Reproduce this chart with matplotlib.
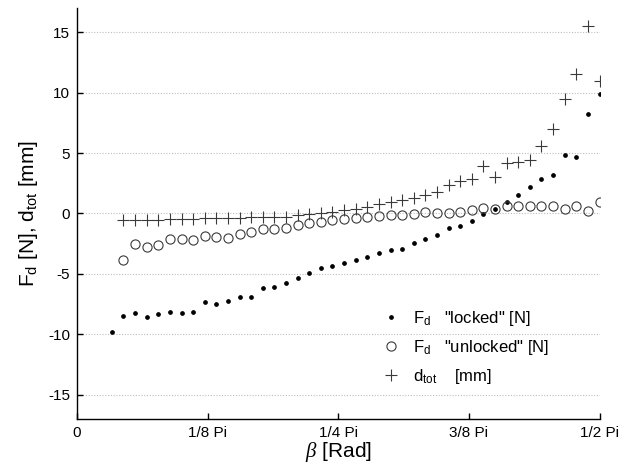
import numpy as np
import matplotlib
matplotlib.use("Agg")
import matplotlib.pyplot as plt

plt.rcParams["font.family"] = ["Liberation Sans", "DejaVu Sans"]
plt.rcParams["mathtext.fontset"] = "custom"
plt.rcParams["mathtext.rm"] = "Liberation Sans"
plt.rcParams["mathtext.it"] = "Liberation Serif:italic"
plt.rcParams["axes.unicode_minus"] = False

# angle of attack in degrees
beta_locked_deg = [6, 8, 10, 12, 14, 16, 18, 20, 22, 24, 26, 28, 30, 32, 34, 36, 38, 40,
                   42, 44, 46, 48, 50, 52, 54, 56, 58, 60, 62, 64, 66, 68, 70, 72,
                   74, 76, 78, 80, 82, 84, 86, 88, 90]
beta_deg = beta_locked_deg[1:]

# damper force, locked state [N]
fd_locked = [-9.81, -8.52, -8.25, -8.58, -8.30, -8.11, -8.25, -8.11, -7.31, -7.50,
             -7.25, -6.89, -6.87, -6.18, -6.07, -5.71, -5.30, -4.94, -4.47, -4.33,
             -4.11, -3.83, -3.56, -3.28, -3.01, -2.90, -2.48, -2.12, -1.74, -1.22,
             -1.02, -0.61, -0.03, 0.38, 0.99, 1.54, 2.18, 2.89, 3.20, 4.85, 4.71,
             8.22, 9.87]

# damper force, unlocked state [N]
fd_unlocked = [-3.83, -2.51, -2.79, -2.59, -2.15, -2.15, -2.21, -1.90, -1.93, -2.04,
               -1.71, -1.49, -1.30, -1.25, -1.16, -0.97, -0.80, -0.69, -0.53, -0.47,
               -0.39, -0.25, -0.19, -0.14, -0.14, -0.06, 0.11, 0.08, 0.05, 0.14,
               0.30, 0.44, 0.38, 0.58, 0.58, 0.58, 0.63, 0.63, 0.41, 0.63, 0.19,
               0.96]

# total displacement [mm]
d_tot = [-0.55, -0.50, -0.50, -0.50, -0.45, -0.45, -0.45, -0.40, -0.40, -0.40,
         -0.35, -0.30, -0.30, -0.25, -0.25, -0.11, -0.06, 0.03, 0.16, 0.30,
         0.38, 0.52, 0.77, 0.94, 1.08, 1.27, 1.54, 1.74, 2.33, 2.65, 2.84,
         3.94, 3.06, 4.16, 4.30, 4.44, 5.60, 6.97, 9.46, 11.55, 15.52, 10.97]

x_ticks = [0, np.pi / 8, np.pi / 4, 3 * np.pi / 8, np.pi / 2]
x_tick_labels = ["0", "1/8 Pi", "1/4 Pi", "3/8 Pi", "1/2 Pi"]
y_ticks = [-15, -10, -5, 0, 5, 10, 15]

fig = plt.figure(figsize=(6.22, 4.65), dpi=100)
ax = fig.add_axes([77 / 622, 46 / 465, 522.5 / 622, 411 / 465])

xl = np.deg2rad(beta_locked_deg)
x = np.deg2rad(beta_deg)

ax.plot(xl, fd_locked, linestyle="none", marker="o", ms=2.4, color="black",
        label=r'$\mathrm{F_d}$   "locked" [N]')
ax.plot(x, fd_unlocked, linestyle="none", marker="o", ms=6.6, mfc="none",
        mec="#3a3a3a", mew=0.8, label=r'$\mathrm{F_d}$   "unlocked" [N]')
ax.plot(x, d_tot, linestyle="none", marker="+", ms=8, color="#3a3a3a", mew=0.8,
        label=r'$\mathrm{d_{tot}}$    [mm]')

ax.set_xlim(0, np.pi / 2)
ax.set_ylim(-17, 17)
ax.set_xticks(x_ticks)
ax.set_xticklabels(x_tick_labels)
ax.set_yticks(y_ticks)
ax.tick_params(direction="in", length=4, width=1, labelsize=11, pad=5)

for yv in y_ticks:
    ax.axhline(yv, color="#bdbdbd", lw=0.8, ls=(0, (1, 1.5)), zorder=0)

for side in ("top", "right"):
    ax.spines[side].set_visible(False)
for side in ("left", "bottom"):
    ax.spines[side].set_linewidth(1.0)

ax.set_ylabel(r'$\mathrm{F_d}$ [N], $\mathrm{d_{tot}}$ [mm]', fontsize=15, labelpad=6)
ax.set_xlabel(r'$\beta$ [Rad]', fontsize=15, labelpad=0)

ax.legend(loc="upper left", bbox_to_anchor=(0.57, 0.285), frameon=False,
          fontsize=12, handlelength=1.2, handletextpad=0.7, labelspacing=0.6,
          borderaxespad=0)

fig.savefig("out.png", dpi=100)
